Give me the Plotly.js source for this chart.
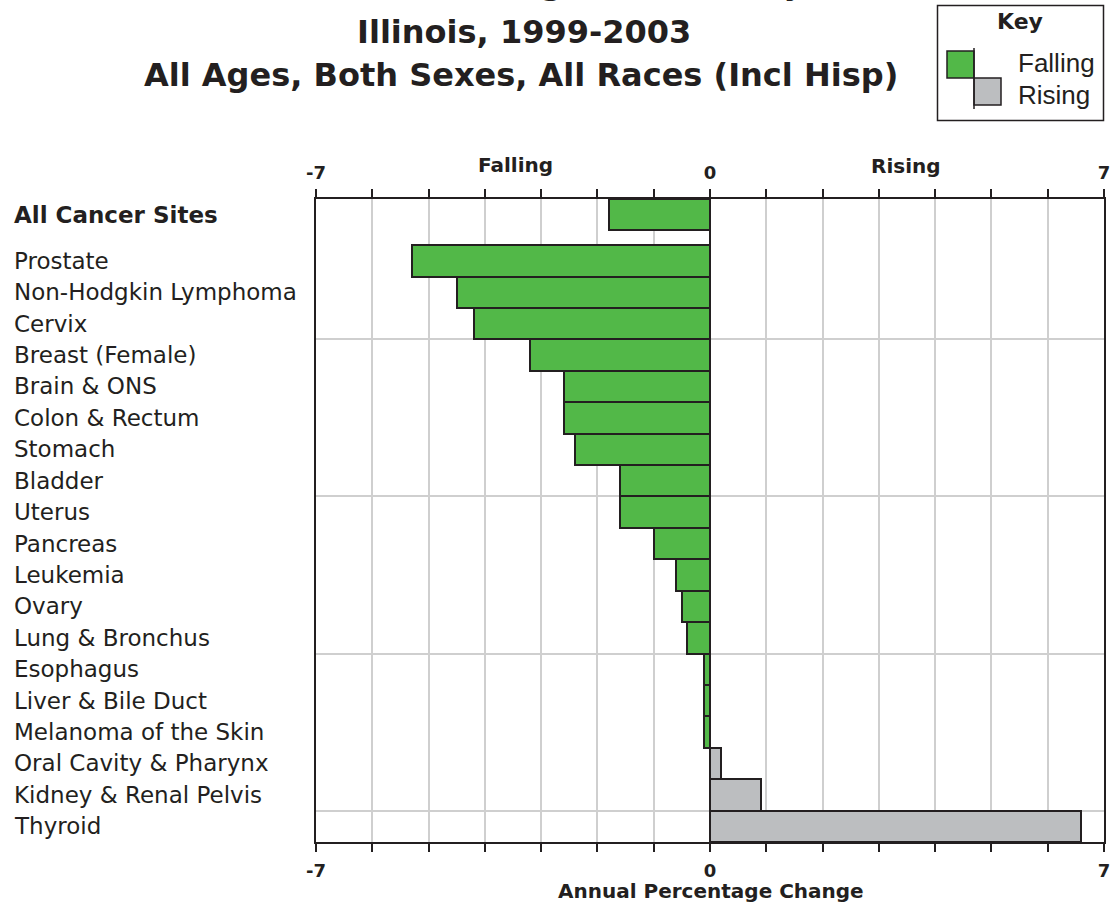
<!DOCTYPE html>
<html>
<head>
<meta charset="utf-8">
<script src="https://cdn.plot.ly/plotly-3.0.1.min.js"></script>
<style>
  html, body { margin: 0; padding: 0; background: #ffffff; }
  #chart { width: 1110px; height: 904px; }
</style>
</head>
<body>
<div id="chart"></div>
<script>
// ---- data ----
const sites = [
  "All Cancer Sites", "Prostate", "Non-Hodgkin Lymphoma", "Cervix", "Breast (Female)",
  "Brain & ONS", "Colon & Rectum", "Stomach", "Bladder", "Uterus", "Pancreas",
  "Leukemia", "Ovary", "Lung & Bronchus", "Esophagus", "Liver & Bile Duct",
  "Melanoma of the Skin", "Oral Cavity & Pharynx", "Kidney & Renal Pelvis", "Thyroid"
];
const apc = [-1.8, -5.3, -4.5, -4.2, -3.2, -2.6, -2.6, -2.4, -1.6, -1.6, -1.0,
             -0.6, -0.5, -0.4, -0.1, -0.1, -0.1, 0.2, 0.9, 6.6];
const xTicks = [-7, -6, -5, -4, -3, -2, -1, 0, 1, 2, 3, 4, 5, 6, 7];
const xTickText = ["-7", "", "", "", "", "", "", "0", "", "", "", "", "", "", "7"];
const titleLines = ["Five-Year Rate Changes - Mortality", "Illinois, 1999-2003",
                    "All Ages, Both Sexes, All Races (Incl Hisp)"];
const keyTitle = "Key";
const keyLabels = ["Falling", "Rising"];
const axisTitle = "Annual Percentage Change";

// ---- layout helpers ----
const W = 1110, H = 904;
const PL = 316, PR = 1104, PT = 199, PB = 842;
const px = v => (v - PL) / (PR - PL);
const py = v => (PB - v) / (PB - PT);
const GREEN = "#52b848", GRAY = "#bcbec0", INK = "#231f20", GRID = "#cfcfcf";
const FONT = "DejaVu Sans";

// row positions: first row (summary) separated by an extra gap
const n = sites.length;
const gap = 0.467;
const ypos = sites.map((s, i) => i === 0 ? (n - 2) + 1 + gap : (n - 1 - i));
const yRange = [-0.5, (n - 2) + 1 + gap + 0.5];

const colors = apc.map(v => v < 0 ? GREEN : GRAY);

const traces = [
  {
    type: "bar", orientation: "h",
    x: apc, y: ypos, width: 1,
    marker: { color: colors, line: { color: INK, width: 2 } },
    hoverinfo: "text", text: sites.map((s, i) => s + ": " + apc[i]), textposition: "none",
    showlegend: false
  },
  {
    type: "scatter", mode: "none", x: apc, y: ypos, xaxis: "x2",
    hoverinfo: "skip", showlegend: false
  }
];

const annotations = [];
// category labels
sites.forEach((s, i) => {
  annotations.push({
    xref: "paper", yref: "y", x: px(12), y: ypos[i], xanchor: "left", yanchor: "middle",
    text: s, showarrow: false,
    font: { family: FONT, size: 23, color: INK, weight: i === 0 ? "bold" : "normal" }
  });
});
// titles
const titleY = [-17, 32, 75];
const titleX = [492, 524, 521];
titleLines.forEach((t, i) => {
  annotations.push({
    xref: "paper", yref: "paper", x: px(titleX[i]), y: py(titleY[i]),
    xanchor: "center", yanchor: "middle", text: t, showarrow: false,
    font: { family: FONT, size: 32, color: INK, weight: "bold" }
  });
});
// side headings
annotations.push({ xref: "paper", yref: "paper", x: px(515), y: py(165), xanchor: "center", yanchor: "middle",
  text: keyLabels[0], showarrow: false, font: { family: FONT, size: 20, color: INK, weight: "bold" } });
annotations.push({ xref: "paper", yref: "paper", x: px(906), y: py(166), xanchor: "center", yanchor: "middle",
  text: keyLabels[1], showarrow: false, font: { family: FONT, size: 20, color: INK, weight: "bold" } });
annotations.push({ xref: "paper", yref: "paper", x: px(711), y: py(891), xanchor: "center", yanchor: "middle",
  text: axisTitle, showarrow: false, font: { family: FONT, size: 20, color: INK, weight: "bold" } });
// key texts
annotations.push({ xref: "paper", yref: "paper", x: px(1020), y: py(22), xanchor: "center", yanchor: "middle",
  text: keyTitle, showarrow: false, font: { family: FONT, size: 22, color: INK, weight: "bold" } });
annotations.push({ xref: "paper", yref: "paper", x: px(1016), y: py(63), xanchor: "left", yanchor: "middle",
  text: keyLabels[0], showarrow: false, font: { family: "Liberation Sans", size: 26, color: INK } });
annotations.push({ xref: "paper", yref: "paper", x: px(1016), y: py(95), xanchor: "left", yanchor: "middle",
  text: keyLabels[1], showarrow: false, font: { family: "Liberation Sans", size: 26, color: INK } });

const shapes = [
  { type: "rect", xref: "paper", yref: "paper", x0: px(937.5), x1: px(1103.5), y0: py(5.5), y1: py(120.5),
    line: { color: INK, width: 1.5 }, fillcolor: "rgba(0,0,0,0)" },
  { type: "rect", xref: "paper", yref: "paper", x0: px(947), x1: px(974), y0: py(51), y1: py(78),
    line: { color: INK, width: 1.5 }, fillcolor: GREEN },
  { type: "rect", xref: "paper", yref: "paper", x0: px(974), x1: px(1001), y0: py(78), y1: py(105),
    line: { color: INK, width: 1.5 }, fillcolor: GRAY },
  { type: "line", xref: "paper", yref: "paper", x0: px(974), x1: px(974), y0: py(48), y1: py(109),
    line: { color: INK, width: 1.5 } }
];

const axisCommon = {
  range: [-7, 7], tickmode: "array", tickvals: xTicks, ticktext: xTickText,
  ticks: "outside", ticklen: 8, tickwidth: 1.5, tickcolor: INK,
  tickfont: { family: FONT, size: 18, color: INK, weight: "bold" },
  ticklabeloverflow: "allow",
  showline: true, linecolor: INK, linewidth: 2, fixedrange: true
};

const layout = {
  width: W, height: H,
  margin: { l: PL, r: W - PR, t: PT, b: H - PB, pad: 0 },
  paper_bgcolor: "#ffffff", plot_bgcolor: "#ffffff",
  bargap: 0,
  xaxis: Object.assign({}, axisCommon, {
    side: "bottom", showgrid: true, gridcolor: GRID, gridwidth: 2,
    zeroline: true, zerolinecolor: INK, zerolinewidth: 2, ticklabelstandoff: 3
  }),
  xaxis2: Object.assign({}, axisCommon, {
    side: "top", overlaying: "x", showgrid: false, zeroline: false, ticklabelstandoff: 3
  }),
  yaxis: {
    range: yRange, tickmode: "array", tickvals: [0.5, 5.5, 10.5, 15.5],
    showticklabels: false, ticks: "", showgrid: true, gridcolor: GRID, gridwidth: 2,
    zeroline: false, showline: true, linecolor: INK, linewidth: 2, mirror: true, fixedrange: true
  },
  annotations: annotations,
  shapes: shapes,
  showlegend: false,
  hovermode: "closest"
};

Plotly.newPlot("chart", traces, layout, { displayModeBar: false, staticPlot: false });
</script>
</body>
</html>
